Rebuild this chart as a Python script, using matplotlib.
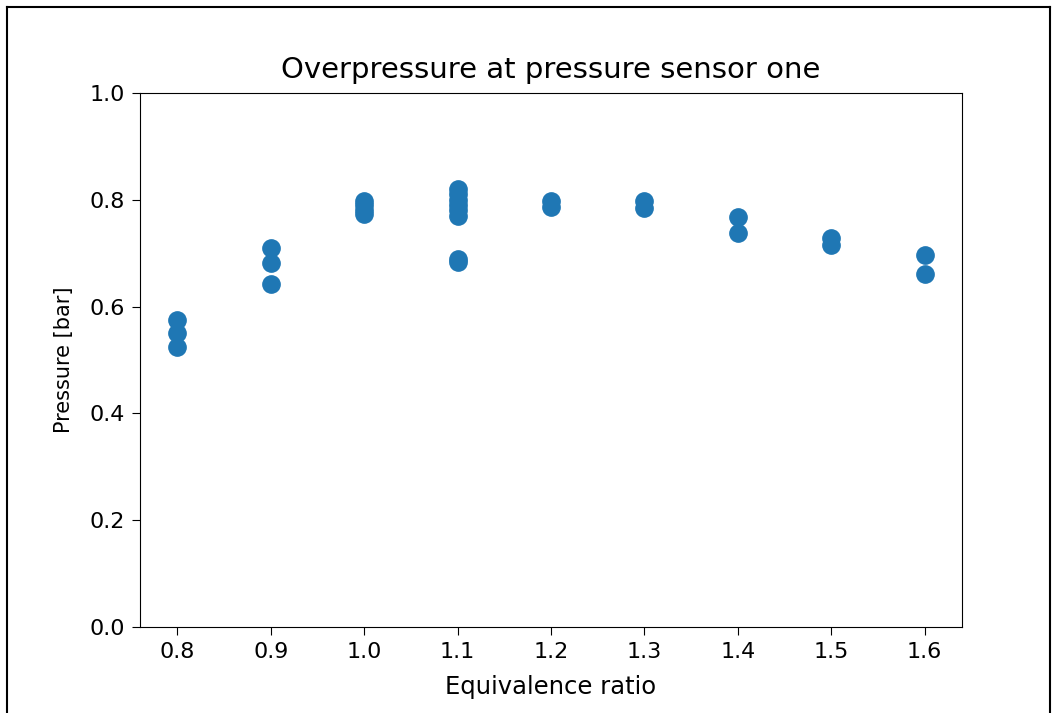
import matplotlib
matplotlib.use("Agg")
import matplotlib.pyplot as plt
from matplotlib.lines import Line2D

# equivalence ratio and measured overpressure (bar)
phi = [0.8, 0.8, 0.8,
       0.9, 0.9, 0.9,
       1.0, 1.0, 1.0, 1.0,
       1.1, 1.1, 1.1, 1.1, 1.1, 1.1, 1.1, 1.1,
       1.2, 1.2,
       1.3, 1.3,
       1.4, 1.4,
       1.5, 1.5,
       1.6, 1.6]
pressure = [0.574, 0.550, 0.524,
            0.710, 0.682, 0.642,
            0.798, 0.790, 0.780, 0.773,
            0.821, 0.810, 0.800, 0.790, 0.780, 0.769, 0.690, 0.684,
            0.798, 0.786,
            0.798, 0.784,
            0.768, 0.737,
            0.728, 0.715,
            0.697, 0.661]

W, H = 1057, 713
fig = plt.figure(figsize=(W / 100, H / 100), dpi=100)
ax = fig.add_axes([140 / W, 1 - 627 / H, (962 - 140) / W, (627 - 93) / H])

ax.scatter(phi, pressure, s=155, color='#1f77b4')
ax.set_ylim(0, 1.0)
ax.set_xticks([0.8, 0.9, 1.0, 1.1, 1.2, 1.3, 1.4, 1.5, 1.6])
ax.set_title('Overpressure at pressure sensor one', fontsize=21, pad=11)
ax.set_xlabel('Equivalence ratio', fontsize=17.5, labelpad=9)
ax.set_ylabel('Pressure [bar]', fontsize=15, labelpad=11)
ax.tick_params(labelsize=16, length=6, pad=5)

# frame around the screenshot
for xs, ys in [([7, 7], [H, 7]), ([7, 1050], [7, 7]), ([1050, 1050], [7, H])]:
    fig.add_artist(Line2D([x / W for x in xs], [1 - y / H for y in ys],
                          color='black', linewidth=1.5))

plt.savefig('out.png', dpi=100)
